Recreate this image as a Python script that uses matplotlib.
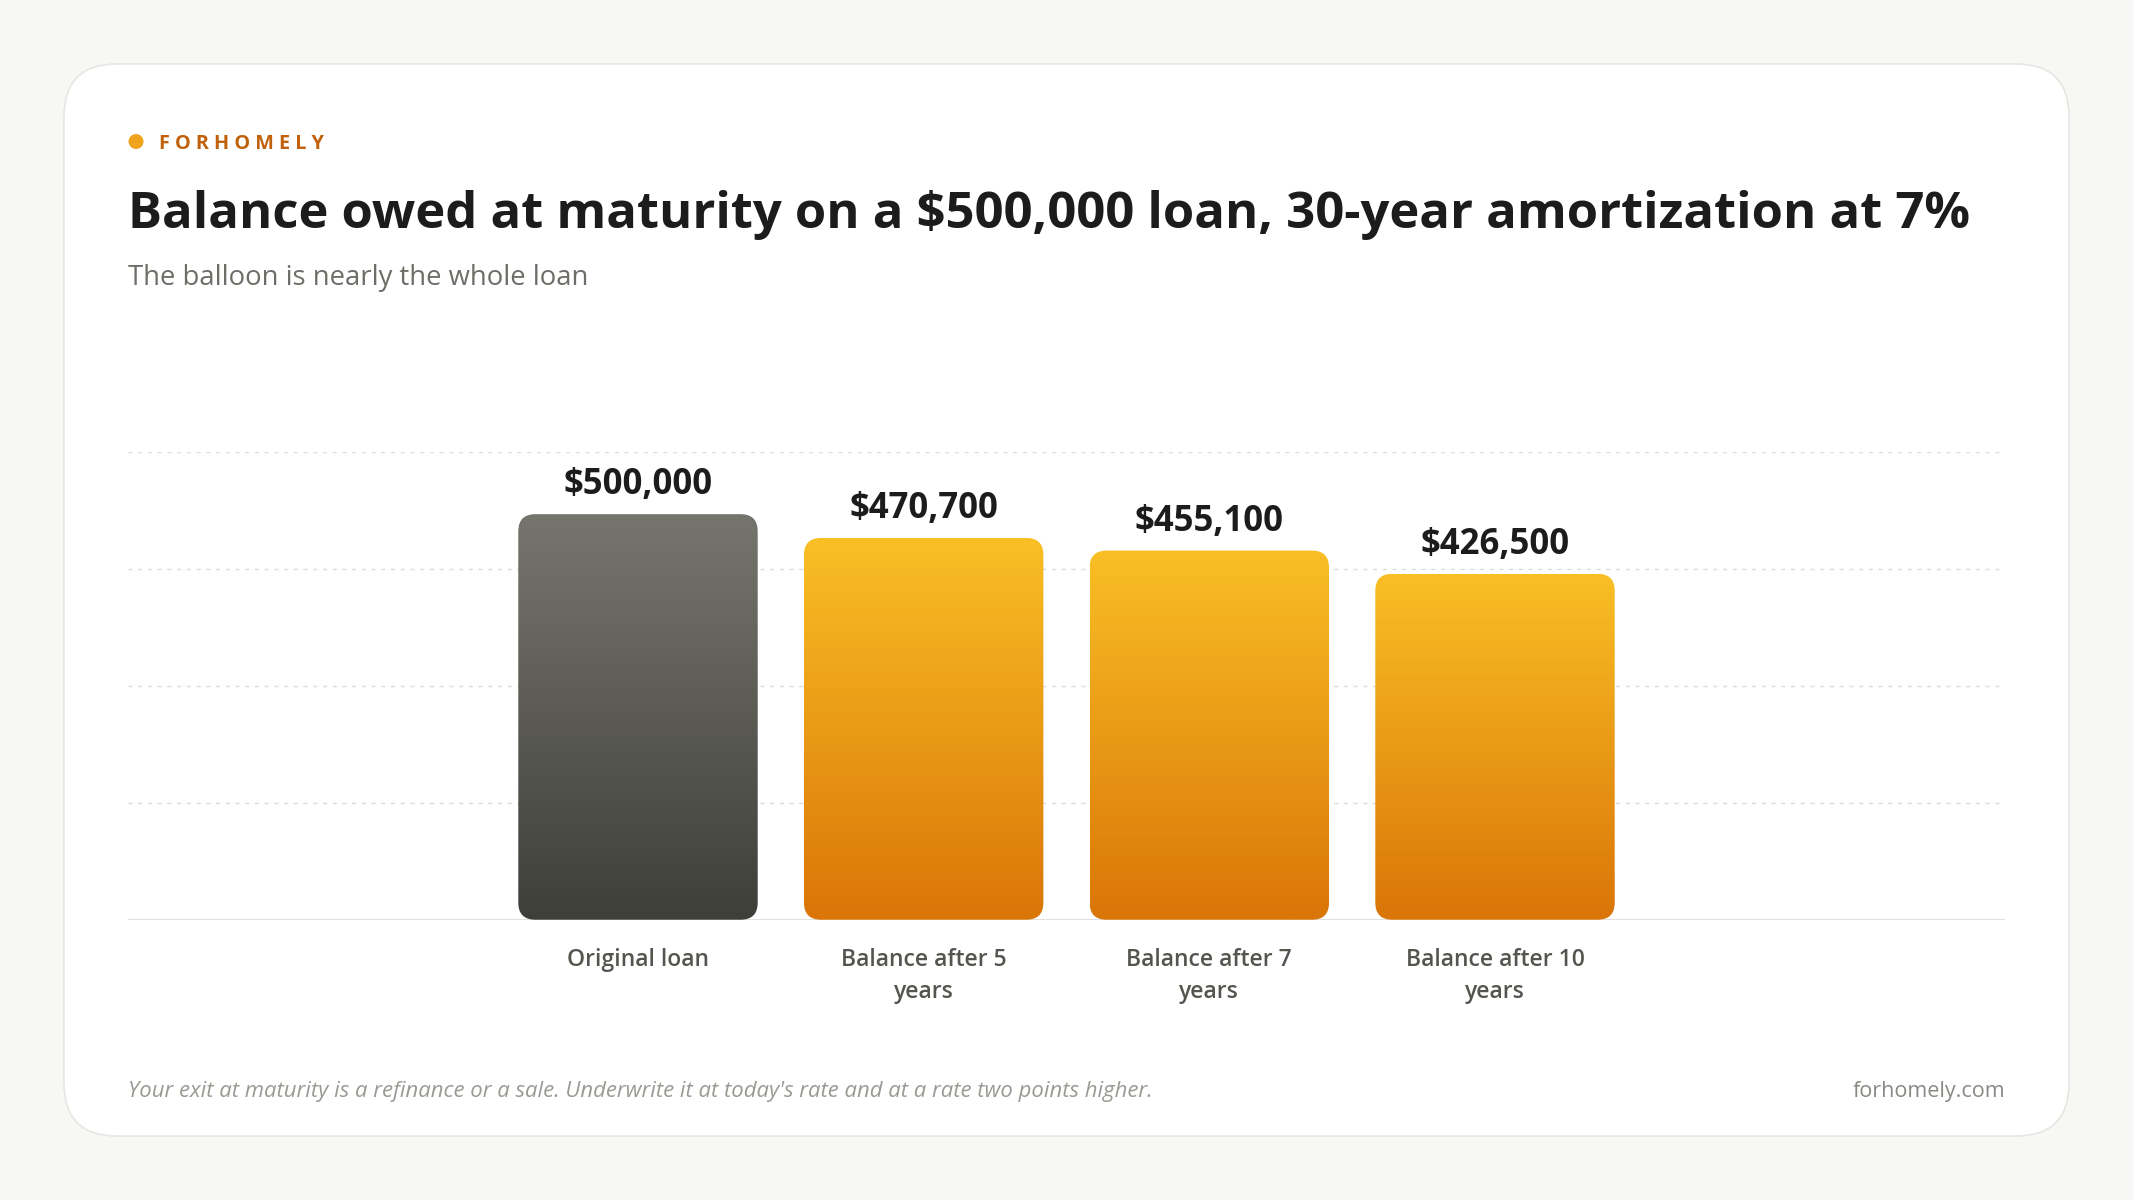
import numpy as np
import matplotlib.pyplot as plt
from matplotlib.patches import FancyBboxPatch, Ellipse
from matplotlib.colors import LinearSegmentedColormap

plt.rcParams['font.family'] = ['Open Sans', 'DejaVu Sans']

categories = ['Original loan', 'Balance after 5\nyears', 'Balance after 7\nyears', 'Balance after 10\nyears']
values = [500000, 470700, 455100, 426500]
labels = ['$500,000', '$470,700', '$455,100', '$426,500']

W, H = 1568, 882  # layout units of the reference
def fx(x): return x / W
def fy(y): return 1 - y / H

fig = plt.figure(figsize=(21.33, 12), dpi=100)
fig.patch.set_facecolor('#f7f7f5')

# card
card = FancyBboxPatch((fx(47), fy(835)), fx(1521) - fx(47), fy(47) - fy(835),
                      boxstyle='round,pad=0,rounding_size=0.025', transform=fig.transFigure,
                      facecolor='white', edgecolor='#e6e6e2', linewidth=1.2,
                      mutation_aspect=W / H, zorder=-5)
fig.patches.append(card)

fig.patches.append(Ellipse((fx(100), fy(104)), 11 / W, 11 / H, transform=fig.transFigure,
                           facecolor='#f0a31c', edgecolor='none'))
fig.text(fx(117), fy(106), 'F O R H O M E L Y', color='#c2610c', fontsize=14.3, fontweight='bold', va='center')
fig.text(fx(94), fy(158), 'Balance owed at maturity on a $500,000 loan, 30-year amortization at 7%',
         color='#1c1c1c', fontsize=36.5, fontweight='bold', va='center')
fig.text(fx(94), fy(204), 'The balloon is nearly the whole loan', color='#6e6d68', fontsize=19.8, va='center')
fig.text(fx(94), fy(802), "Your exit at maturity is a refinance or a sale. Underwrite it at today's rate and at a rate two points higher.",
         color='#9a9993', fontsize=15.9, style='italic', va='center')
fig.text(fx(1474), fy(802), 'forhomely.com', color='#8a8984', fontsize=15.5, va='center', ha='right')

ax = fig.add_axes([fx(94), fy(676), fx(1474) - fx(94), fy(332) - fy(676)])
ax.set_zorder(5)
ax.patch.set_alpha(0)
ymax = 577000
x0, x1 = (94 - 469) / 210, (1474 - 469) / 210
for s in ax.spines.values():
    s.set_visible(False)
for g in np.linspace(0, ymax, 5)[1:]:
    ax.axhline(g, color='#dcdcd8', linestyle=(0, (3, 4)), linewidth=1, zorder=0)
ax.axhline(0, color='#dcdcd8', linewidth=1.2, zorder=1)

gray = LinearSegmentedColormap.from_list('g', ['#3f3f3a', '#76756d'])
orange = LinearSegmentedColormap.from_list('o', ['#da7508', '#f9bf25'])
bw = 176 / 210
grad = np.linspace(0, 1, 256).reshape(-1, 1)
for i, v in enumerate(values):
    cmap = gray if i == 0 else orange
    patch = FancyBboxPatch((i - bw / 2, 0), bw, v, boxstyle='round,pad=0,rounding_size=0.06',
                           mutation_aspect=ymax / 344 * 210, facecolor='none', edgecolor='none')
    ax.add_patch(patch)
    im = ax.imshow(grad, cmap=cmap, origin='lower', aspect='auto',
                   extent=(i - bw / 2, i + bw / 2, 0, v), zorder=2)
    im.set_clip_path(patch)
    ax.text(i, v + 13500, labels[i], ha='center', va='bottom', fontsize=25,
            fontweight='bold', color='#1c1c1c')

ax.set_xticks(range(len(categories)))
ax.set_xticklabels(categories, fontsize=16.5, color='#55544f', fontweight='semibold', linespacing=1.45)
ax.tick_params(axis='x', length=0, pad=20)
ax.set_yticks([])
ax.set_xlim(x0, x1)
ax.set_ylim(0, ymax)

fig.savefig('out.png', dpi=100, facecolor=fig.get_facecolor())
